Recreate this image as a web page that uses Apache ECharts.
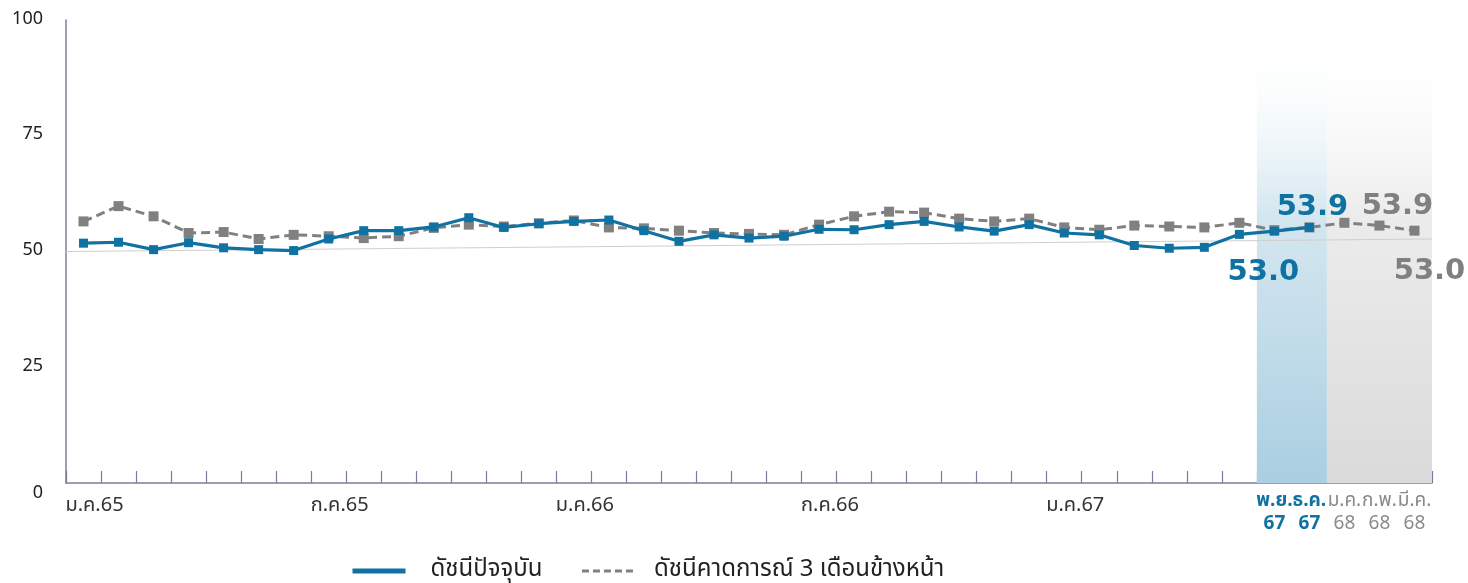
<!DOCTYPE html>
<html>
<head>
<meta charset="utf-8">
<script src="https://cdn.jsdelivr.net/npm/echarts@6/dist/echarts.min.js"></script>
<style>
html,body{margin:0;padding:0;background:#fff;}
#chart{width:1468px;height:583px;}
</style>
</head>
<body>
<div id="chart"></div>
<script>
// Months Jan 2022 (ม.ค.65) to Mar 2025 (มี.ค.68)
const categories = [
  'ม.ค.65','ก.พ.65','มี.ค.65','เม.ย.65','พ.ค.65','มิ.ย.65','ก.ค.65','ส.ค.65','ก.ย.65','ต.ค.65','พ.ย.65','ธ.ค.65',
  'ม.ค.66','ก.พ.66','มี.ค.66','เม.ย.66','พ.ค.66','มิ.ย.66','ก.ค.66','ส.ค.66','ก.ย.66','ต.ค.66','พ.ย.66','ธ.ค.66',
  'ม.ค.67','ก.พ.67','มี.ค.67','เม.ย.67','พ.ค.67','มิ.ย.67','ก.ค.67','ส.ค.67','ก.ย.67','ต.ค.67','พ.ย.67','ธ.ค.67',
  'ม.ค.68','ก.พ.68','มี.ค.68'
];
// Tick labels as they appear on the axis (one slot per category)
const tickLabels = [
  'ม.ค.65','','','','','','','ก.ค.65','','','','','','',
  'ม.ค.66','','','','','','','ก.ค.66','','','','','','',
  'ม.ค.67','','','','','',
  'พ.ย.\n67','ธ.ค.\n67','ม.ค.\n68','ก.พ.\n68','มี.ค.\n68'
];
const currentIndex = [
  51.8,52.0,50.4,51.9,50.8,50.4,50.2,52.7,54.5,54.5,55.3,57.3,
  55.2,56.0,56.5,56.8,54.5,52.2,53.6,52.9,53.3,54.8,54.7,55.8,
  56.5,55.3,54.4,55.8,54.0,53.6,51.3,50.7,50.9,53.7,54.4,55.2,
  null,null,null
];
const expectationIndex = [
  56.5,59.8,57.6,54.0,54.2,52.7,53.6,53.3,52.9,53.3,55.1,55.8,
  55.4,56.1,56.7,55.2,55.0,54.5,54.0,53.8,53.6,55.8,57.6,58.6,
  58.4,57.1,56.5,57.1,55.2,54.7,55.6,55.4,55.2,56.2,54.6,55.2,
  56.2,55.6,54.5
];
// Highlighted value labels: [category index, text]
const currentLabels = [[34,'53.0'],[35,'53.9']];
const expectationLabels = [[37,'53.9'],[38,'53.0']];
// Faint reference line (start value, end value)
const refLine = [50.0, 52.7];
const yTicks = [0,25,50,75,100];

const BLUE = '#0f72a2';
const GRAY = '#808080';
const FONT = '"Noto Sans Thai", "Noto Sans", sans-serif';
const NUMFONT = '"DejaVu Sans", "Noto Sans", sans-serif';

function withLabels(values, labels, color, offsets) {
  return values.map((v, i) => {
    const hit = labels.find(l => l[0] === i);
    if (!hit) return v;
    const k = labels.indexOf(hit);
    return {
      value: v,
      label: {
        show: true, position: 'inside', formatter: hit[1],
        offset: offsets[k], color: color, fontSize: 29, fontWeight: 'bold',
        fontFamily: NUMFONT
      }
    };
  });
}

const chart = echarts.init(document.getElementById('chart'), null, {renderer: 'canvas'});
const axisColor = '#7c7c9a';
const n = categories.length;

chart.setOption({
  animation: false,
  backgroundColor: '#fff',
  textStyle: {fontFamily: FONT},
  grid: {left: 66, right: 36, top: 20, bottom: 100},
  legend: {
    left: 345, top: 554,
    itemWidth: 53, itemHeight: 4, itemGap: 38,
    textStyle: {fontSize: 24, color: '#222', fontFamily: FONT},
    itemStyle: {opacity: 0},
    data: [
      {name: 'ดัชนีปัจจุบัน', lineStyle: {width: 5}, textStyle: {padding: [0,0,0,20]}},
      {name: 'ดัชนีคาดการณ์ 3 เดือนข้างหน้า', lineStyle: {width: 3, type: [7,4]}, textStyle: {padding: [0,0,0,14]}}
    ]
  },
  xAxis: [{
    type: 'category',
    data: categories,
    boundaryGap: true,
    axisLine: {lineStyle: {color: axisColor, width: 1.5}},
    axisTick: {show: true, inside: true, length: 12, interval: 0, lineStyle: {color: axisColor, width: 1.2}},
    axisLabel: {
      interval: 0, margin: 8,
      formatter: (val, idx) => {
        const t = tickLabels[idx];
        if (!t) return '';
        if (idx < 34) return '{a|' + t + '}';
        const parts = t.split('\n');
        const st = idx < 36 ? 'b' : 'g';
        return '{' + st + '|' + parts[0] + '}\n{' + st + '|' + parts[1] + '}';
      },
      rich: {
        a: {fontSize: 20, color: '#333', padding: [6,0,0,22], fontFamily: FONT},
        b: {fontSize: 19, color: BLUE, fontWeight: 'bold', lineHeight: 23, fontFamily: FONT},
        g: {fontSize: 19, color: '#8a8a8a', lineHeight: 23, fontFamily: FONT}
      }
    }
  }, {
    type: 'value', min: 0, max: n, show: false
  }],
  yAxis: {
    type: 'value', min: yTicks[0], max: yTicks[yTicks.length-1], interval: 25,
    axisLine: {show: true, lineStyle: {color: axisColor, width: 1.5}},
    axisTick: {show: false},
    splitLine: {show: false},
    axisLabel: {
      color: '#222', margin: 23,
      formatter: v => v === 0 ? '{z|0}' : '{n|' + v + '}',
      rich: {
        n: {fontSize: 18, color: '#222', fontFamily: FONT},
        z: {fontSize: 18, color: '#222', fontFamily: FONT, padding: [22,0,0,0]}
      }
    }
  },
  series: [
    {
      name: 'ref', type: 'line', xAxisIndex: 1,
      data: [[0, refLine[0]], [n, refLine[1]]],
      symbol: 'none', silent: true,
      lineStyle: {color: '#cfcfcf', width: 1},
      z: 1,
      markArea: {
        silent: true,
        data: [
          [{xAxis: 34, yAxis: 0, itemStyle: {color: new echarts.graphic.LinearGradient(0,0,0,1,[
              {offset: 0, color: 'rgba(255,255,255,0)'},
              {offset: 0.4, color: 'rgba(208,228,238,0.9)'},
              {offset: 1, color: '#a9cfe1'}])}},
           {xAxis: 36, yAxis: 97}],
          [{xAxis: 36, yAxis: 0, itemStyle: {color: new echarts.graphic.LinearGradient(0,0,0,1,[
              {offset: 0, color: 'rgba(255,255,255,0)'},
              {offset: 0.4, color: 'rgba(234,234,234,0.9)'},
              {offset: 1, color: '#dadada'}])}},
           {xAxis: n, yAxis: 97}]
        ]
      }
    },
    {
      name: 'ดัชนีคาดการณ์ 3 เดือนข้างหน้า', type: 'line',
      data: withLabels(expectationIndex, expectationLabels, GRAY, [[18,-19],[15,41]]),
      symbol: 'rect', symbolSize: 10,
      itemStyle: {color: GRAY},
      lineStyle: {color: GRAY, width: 3, type: [9,5]},
      z: 3
    },
    {
      name: 'ดัชนีปัจจุบัน', type: 'line',
      data: withLabels(currentIndex, currentLabels, BLUE, [[-11,41],[3,-20]]),
      symbol: 'rect', symbolSize: 9,
      itemStyle: {color: BLUE},
      lineStyle: {color: BLUE, width: 3.2},
      z: 4
    }
  ]
});
</script>
</body>
</html>
